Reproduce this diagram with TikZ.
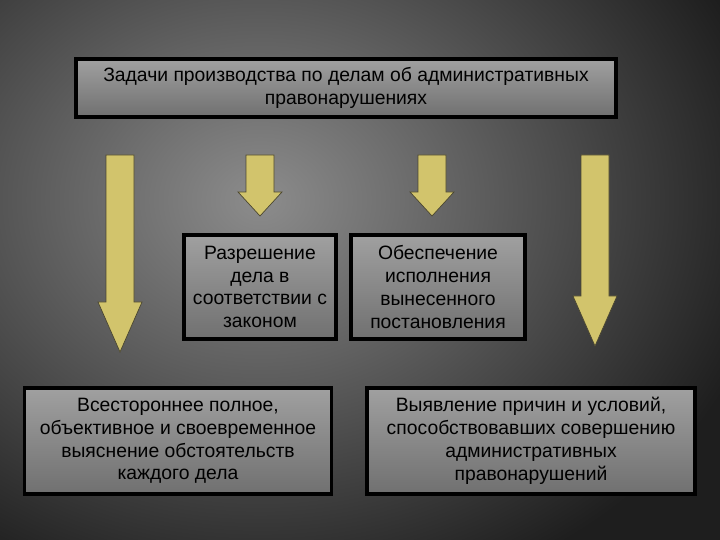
\documentclass[tikz,border=0pt]{standalone}
\usepackage{fontspec}
\setmainfont{Liberation Sans}
\usetikzlibrary{calc}
\definecolor{bgdark}{HTML}{1E1E1E}
\definecolor{bglight}{HTML}{8C8C8C}
\definecolor{boxtop}{HTML}{A0A0A0}
\definecolor{boxbot}{HTML}{707070}
\definecolor{arrowfill}{HTML}{D2C46C}
\definecolor{arrowline}{HTML}{4A4630}
\tikzset{
  task/.style={draw=black,line width=2.6pt,top color=boxtop,bottom color=boxbot,
    align=center,inner sep=2pt,font=\fontsize{16.5}{19.5}\selectfont},
  fat arrow/.style={fill=arrowfill,draw=arrowline,line width=0.6pt,line join=miter}
}
% fat arrow: centre x, top y, bottom y, head start y
\newcommand\fatarrow[4]{%
  \draw[fat arrow] (#1-14,#2) -- (#1+14,#2) -- (#1+14,#4) -- (#1+22,#4)
    -- (#1,#3) -- (#1-22,#4) -- (#1-14,#4) -- cycle;}
\begin{document}
\begin{tikzpicture}[x=0.03cm,y=-0.03cm]
  \useasboundingbox (0,0) rectangle (720,540);
  \begin{scope}
    \clip (0,0) rectangle (720,540);
    \fill[bgdark] (0,0) rectangle (720,540);
    \shade[inner color=bglight,outer color=bgdark] (260,200) ellipse (520 and 420);
  \end{scope}
  %
  \node[task,minimum width=540*0.03cm,minimum height=58*0.03cm] (main) at (346,88)
    {Задачи производства по делам об административных\\правонарушениях};
  \node[task,minimum width=152*0.03cm,minimum height=104*0.03cm] (res) at (260,287)
    {Разрешение\\дела в\\соответствии с\\законом};
  \node[task,minimum width=174*0.03cm,minimum height=104*0.03cm] (exe) at (438,287)
    {Обеспечение\\исполнения\\вынесенного\\постановления};
  \node[task,minimum width=307*0.03cm,minimum height=106*0.03cm] (all) at (178,441)
    {Всестороннее полное,\\объективное и своевременное\\выяснение обстоятельств\\каждого дела};
  \node[task,minimum width=328*0.03cm,minimum height=106*0.03cm] (rsn) at (531,441)
    {Выявление причин и условий,\\способствовавших совершению\\административных\\правонарушений};
  %
  \fatarrow{120}{155}{352}{302}
  \fatarrow{260}{155}{216}{192}
  \fatarrow{432}{155}{216}{192}
  \fatarrow{595}{155}{346}{296}
\end{tikzpicture}
\end{document}
